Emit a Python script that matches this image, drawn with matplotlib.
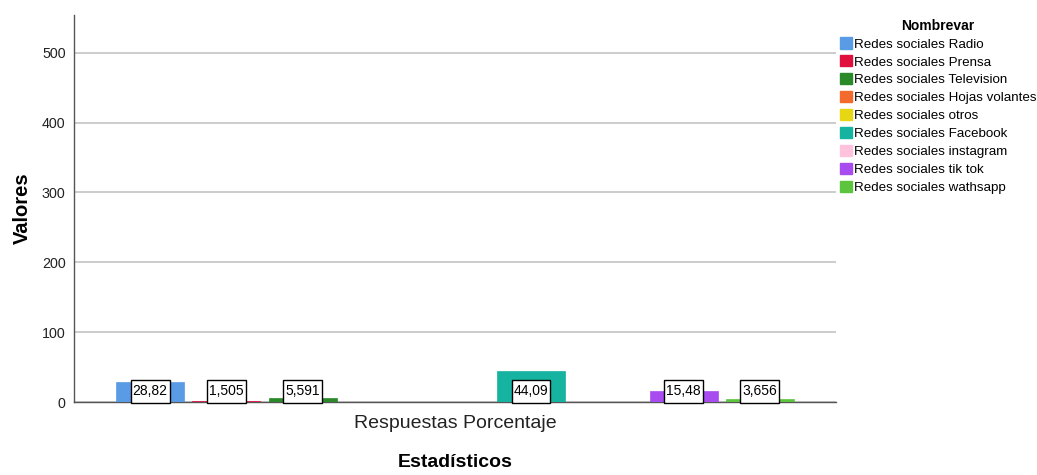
import matplotlib
matplotlib.use("Agg")
import matplotlib.pyplot as plt
import matplotlib.patches as mpatches
from matplotlib.path import Path

plt.rcParams["font.family"] = ["Liberation Sans", "DejaVu Sans"]

# Data
categories = ["Redes sociales Radio", "Redes sociales Prensa",
              "Redes sociales Television", "Redes sociales Hojas volantes",
              "Redes sociales otros", "Redes sociales Facebook",
              "Redes sociales instagram", "Redes sociales tik tok",
              "Redes sociales wathsapp"]
values = [28.82, 1.505, 5.591, 0.0, 0.0, 44.09, 0.0, 15.48, 3.656]
value_labels = ["28,82", "1,505", "5,591", "", "", "44,09", "", "15,48", "3,656"]
colors = ["#5A9BE6", "#E0103E", "#2A8A2A", "#F26A2C", "#E6D614",
          "#15B3A0", "#FFC2DC", "#A84CF0", "#5DC43D"]
group_label = "Respuestas Porcentaje"
y_ticks = [0, 100, 200, 300, 400, 500]


def tall_box(x0, y0, width, height, mutation_size):
    # value boxes are narrow but tall, so pad x and y differently
    px, py = 0.14 * mutation_size, 0.32 * mutation_size
    x0, x1 = x0 - px, x0 + width + px
    y0, y1 = y0 - py, y0 + height + py
    return Path([(x0, y0), (x1, y0), (x1, y1), (x0, y1), (x0, y0)],
                closed=True)


W, H = 1037, 475
fig = plt.figure(figsize=(W / 100, H / 100), dpi=100, facecolor="white")
ax = fig.add_axes([74 / W, (H - 402) / H, (836 - 74) / W, (402 - 15) / H])

xs = list(range(len(values)))
ax.bar(xs, values, width=0.89, color=colors, edgecolor=colors,
       linewidth=0.5, zorder=3)

# SPSS puts the value boxes low, near the base of each bar
for x, v, lab in zip(xs, values, value_labels):
    if not lab:
        continue
    ax.text(x, 15.5, lab, ha="center", va="center",
            fontsize=10, color="black", zorder=5,
            bbox=dict(boxstyle=tall_box, fc="white", ec="black", lw=1))

ax.set_xlim(-1, 9)
ax.set_ylim(0, 554)
ax.set_yticks(y_ticks)
ax.set_yticklabels([str(t) for t in y_ticks], fontsize=10.3, color="#222222")
ax.set_xticks([4])
ax.set_xticklabels([group_label], fontsize=14, color="#222222")
ax.tick_params(axis="both", length=0, pad=6)
ax.tick_params(axis="x", pad=9)
ax.yaxis.grid(True, color="#c4c4c4", linewidth=1.2, zorder=0)
ax.set_axisbelow(True)
for side in ("top", "right"):
    ax.spines[side].set_visible(False)
for side in ("left", "bottom"):
    ax.spines[side].set_color("#555555")
    ax.spines[side].set_linewidth(1.0)

ax.set_ylabel("Valores", fontsize=14.5, fontweight="bold", labelpad=7)
ax.set_xlabel("Estadísticos", fontsize=14, fontweight="bold", labelpad=16)

handles = [mpatches.Patch(color=c, label=l) for c, l in zip(colors, categories)]
leg = fig.legend(handles=handles, loc="upper left",
                 bbox_to_anchor=(837 / W, 1 - 16 / H), frameon=False,
                 title="Nombrevar", fontsize=9.6, title_fontsize=10,
                 handlelength=0.9, handleheight=0.9, handletextpad=0.2,
                 labelspacing=0.36, borderaxespad=0, borderpad=0.2)
leg.get_title().set_fontweight("bold")

fig.savefig("out.png", dpi=100, facecolor="white")
